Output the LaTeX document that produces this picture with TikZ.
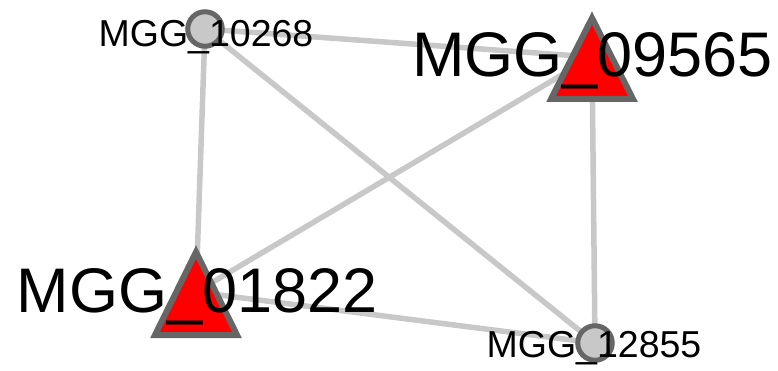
\documentclass[tikz,border=0pt]{standalone}
\usepackage{fontspec}
\setmainfont{Liberation Sans}
\usetikzlibrary{backgrounds}
\definecolor{edgegray}{HTML}{C8C8C8}
\definecolor{bordergray}{HTML}{666666}
\definecolor{fillgray}{HTML}{C8C8C8}
\tikzset{
  circnode/.style={circle, draw=bordergray, fill=fillgray, line width=5pt, minimum size=34.5pt, inner sep=0pt},
  trinode/.style={coordinate},
  tripath/.style={draw=bordergray, fill=red, line width=6pt, line join=miter},
  edge/.style={draw=edgegray, line width=5.5pt},
  biglabel/.style={inner sep=0pt, text height=45pt, text depth=0pt, font=\fontsize{63}{63}\selectfont},
  smalllabel/.style={inner sep=0pt, text height=27pt, text depth=0pt, font=\fontsize{37.5}{37.5}\selectfont},
}
\begin{document}
\begin{tikzpicture}[x=1pt,y=-1pt]
\useasboundingbox (0,0) rectangle (778,371);
% node positions
\node[circnode] (n10268) at (205,29) {};
\node[circnode] (n12855) at (595,343) {};
\node[trinode] (n09565) at (592,57) {};
\node[trinode] (n01822) at (196,292) {};
% edges
\begin{scope}[on background layer]
\draw[edge] (n10268.center) -- (n09565);
\draw[edge] (n10268.center) -- (n01822);
\draw[edge] (n10268.center) -- (n12855.center);
\draw[edge] (n09565) -- (n01822);
\draw[edge] (n09565) -- (n12855.center);
\draw[edge] (n01822) -- (n12855.center);
\end{scope}
% triangles
\path[tripath, shift={(n09565)}] (0,-39) -- (41,42) -- (-41,42) -- cycle;
\path[tripath, shift={(n01822)}] (0,-40) -- (41,43) -- (-41,43) -- cycle;
% labels
\node[smalllabel] (l10268) at (206,33) {MGG\_10268};
\node[biglabel] (l09565) at (592.5,54.5) {MGG\_09565};
\node[biglabel] (l01822) at (197,289.5) {MGG\_01822};
\node[smalllabel] (l12855) at (594,343.5) {MGG\_12855};
\end{tikzpicture}
\end{document}
